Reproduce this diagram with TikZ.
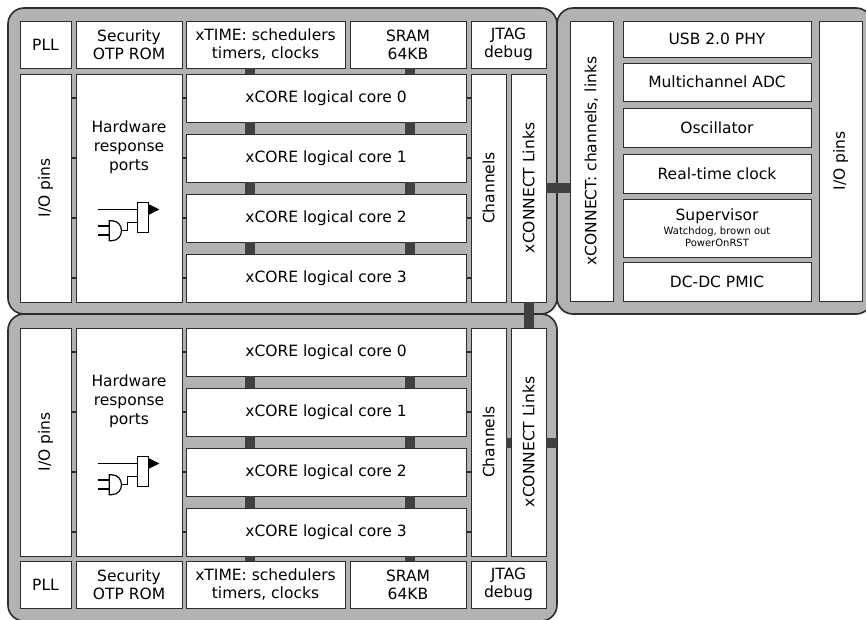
\documentclass[tikz,border=0pt]{standalone}
\usepackage{fontspec}
\usepackage{graphicx}
\setmainfont{DejaVu Sans}
\definecolor{tilegray}{RGB}{178,178,178}
\definecolor{edge}{RGB}{45,45,45}
\definecolor{busgray}{RGB}{64,64,64}
\begin{document}
\begin{tikzpicture}[x=1pt,y=-1pt,
  tile/.style={draw=edge,fill=tilegray,line width=1.6pt,rounded corners=16pt},
  lbl/.style={align=center,inner sep=0pt,font=\fontsize{15.5}{18}\selectfont},
  blk/.style 2 args={lbl,draw=edge,fill=white,line width=0.9pt,minimum width=#1,minimum height=#2},
  bus/.style={draw=busgray,line width=10pt},
  tick/.style={draw=edge,line width=2pt},
  gate/.style={draw=black,line width=1.2pt}]
\useasboundingbox (0,0) rectangle (866,619);
\draw[tile] (8,8) rectangle (557,314);
\draw[tile] (8,314) rectangle (557,621);
\draw[tile] (557,8) rectangle (872,314);
\coordinate (ba) at (250,0);
\coordinate (bb) at (410,0);
\coordinate (bedge) at (557,443);

% top tile
\node[blk={51}{47}] (apll) at (45.5,44.5) {PLL};
\node[blk={106}{47}] (asec) at (129,44.5) {Security\\OTP ROM};
\node[blk={159}{47}] (atime) at (265.5,44.5) {xTIME: schedulers\\timers, clocks};
\node[blk={116}{47}] (asram) at (408,44.5) {SRAM\\64KB};
\node[blk={75}{47}] (ajtag) at (508.5,44.5) {JTAG\\debug};
\node[blk={51}{228}] (aio) at (45.5,188) {\rotatebox{90}{I/O pins}};
\node[blk={106}{228}] (ahw) at (129,188) {};
\node[lbl,font=\fontsize{15.5}{19}\selectfont] (ahwtext) at (129,147) {Hardware\\response\\ports};
\foreach \i/\y in {0/98,1/158,2/218,3/278}
  \node[blk={280}{48}] (ac\i) at (326,\y) {xCORE logical core \i};
\node[blk={35}{228}] (ach) at (488.5,188) {\rotatebox{90}{Channels}};
\node[blk={35}{228}] (alinks) at (528.5,188) {\rotatebox{90}{xCONNECT Links}};

% bottom tile
\node[blk={51}{228}] (bio) at (45.5,442) {\rotatebox{90}{I/O pins}};
\node[blk={106}{228}] (bhw) at (129,442) {};
\node[lbl,font=\fontsize{15.5}{19}\selectfont] (bhwtext) at (129,401) {Hardware\\response\\ports};
\foreach \i/\y in {0/352,1/412,2/472,3/532}
  \node[blk={280}{48}] (bc\i) at (326,\y) {xCORE logical core \i};
\node[blk={35}{228}] (bch) at (488.5,442) {\rotatebox{90}{Channels}};
\node[blk={35}{228}] (blinks) at (528.5,442) {\rotatebox{90}{xCONNECT Links}};
\node[blk={51}{47}] (bpll) at (45.5,584.5) {PLL};
\node[blk={106}{47}] (bsec) at (129,584.5) {Security\\OTP ROM};
\node[blk={159}{47}] (btime) at (265.5,584.5) {xTIME: schedulers\\timers, clocks};
\node[blk={116}{47}] (bsram) at (408,584.5) {SRAM\\64KB};
\node[blk={75}{47}] (bjtag) at (508.5,584.5) {JTAG\\debug};

% right tile
\node[blk={43}{280}] (xcon) at (591.5,161) {\rotatebox{90}{xCONNECT: channels, links}};
\node[blk={188}{36}] (usb) at (717,39) {USB 2.0 PHY};
\node[blk={188}{38}] (adc) at (717,82) {Multichannel ADC};
\node[blk={188}{39}] (osc) at (717,127.5) {Oscillator};
\node[blk={188}{39}] (rtc) at (717,173.5) {Real-time clock};
\node[blk={188}{58}] (sup) at (717,228) {};
\node[lbl] (suptext) at (717,216) {Supervisor};
\node[lbl,font=\fontsize{10}{11.7}\selectfont] (supnote) at (717,237) {Watchdog, brown out\\PowerOnRST};
\node[blk={188}{39}] (pmic) at (717,281.5) {DC-DC PMIC};
\node[blk={43}{280}] (rio) at (840.5,161) {\rotatebox{90}{I/O pins}};

% buses
\foreach \x in {ba,bb} {
  \draw[bus] (\x |- atime.south) -- (\x |- ac0.north);
  \draw[bus] (\x |- ac0.south) -- (\x |- ac1.north);
  \draw[bus] (\x |- ac1.south) -- (\x |- ac2.north);
  \draw[bus] (\x |- ac2.south) -- (\x |- ac3.north);
  \draw[bus] (\x |- bc0.south) -- (\x |- bc1.north);
  \draw[bus] (\x |- bc1.south) -- (\x |- bc2.north);
  \draw[bus] (\x |- bc2.south) -- (\x |- bc3.north);
  \draw[bus] (\x |- bc3.south) -- (\x |- btime.north);
}
\draw[bus] (alinks.east) -- (xcon.west |- alinks.east);
\draw[bus] (alinks.south) -- (blinks.north);
\draw[bus] (bch.east |- bedge) -- (blinks.west |- bedge);
\draw[bus] (blinks.east |- bedge) -- (bedge);

% ticks
\foreach \t in {a,b}
  \foreach \i in {0,...,3} {
    \draw[tick] (\t io.east |- \t c\i) -- (\t hw.west |- \t c\i);
    \draw[tick] (\t hw.east |- \t c\i) -- (\t c\i.west);
    \draw[tick] (\t c\i.east) -- (\t ch.west |- \t c\i);
  }

% port logic
\foreach \dy in {0,254} {
  \begin{scope}[shift={(0,\dy)}]
  \draw[gate] (97.7,209.3) -- (137.3,209.3);
  \draw[gate,fill=white] (137.3,202.3) rectangle (148.3,232.7);
  \fill (148.3,204) -- (159.3,209.5) -- (148.3,215) -- cycle;
  \draw[gate] (111.5,220.7) -- (109.3,220.7) -- (109.3,240.7) -- (111.5,240.7)
    .. controls (124.8,240.7) and (124.8,220.7) .. (111.5,220.7);
  \draw[gate] (97.7,226) -- (109.3,226);
  \draw[gate] (97.7,235) -- (109.3,235);
  \draw[gate] (122,230.7) -- (127.7,230.7) -- (127.7,222.3) -- (137.3,222.3);
  \end{scope}
}
\end{tikzpicture}
\end{document}
